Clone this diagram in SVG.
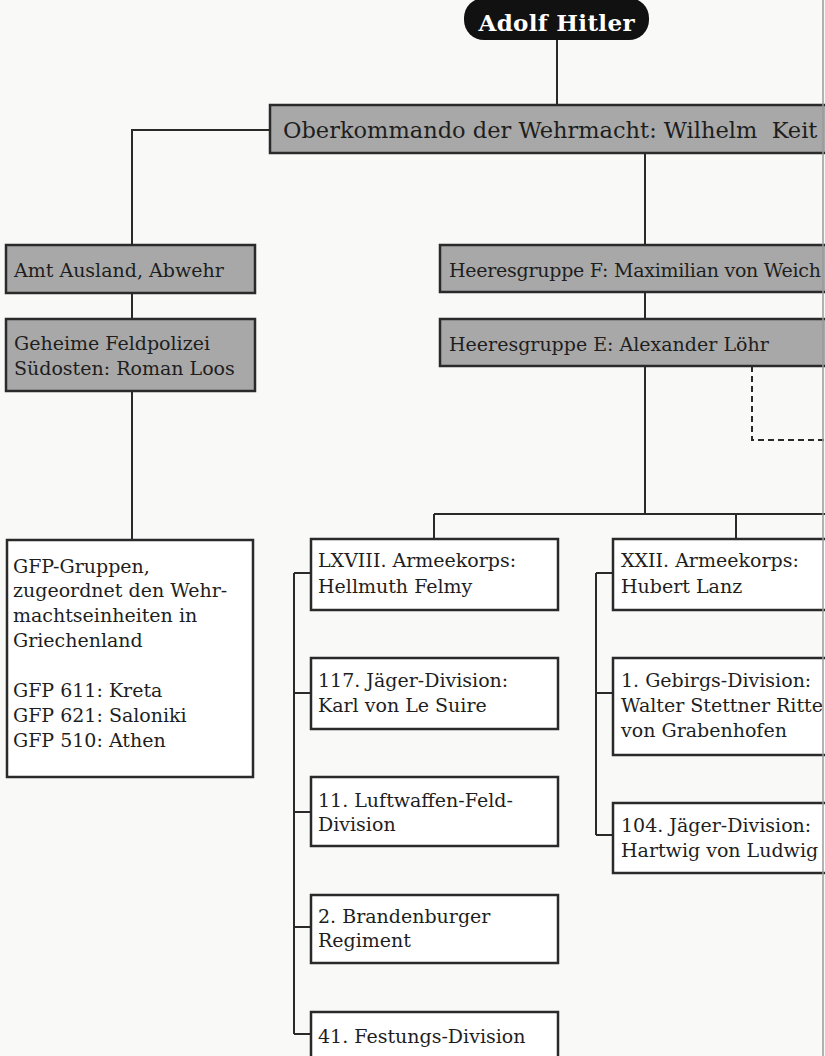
<svg xmlns="http://www.w3.org/2000/svg" width="825" height="1056" viewBox="0 0 825 1056">
<style>
.bg{fill:#f9f9f8}
.box{fill:#ffffff;stroke:#2a2a2a;stroke-width:2.5}
.gray{fill:#a8a8a8;stroke:#2a2a2a;stroke-width:2.5}
.t{font-family:"DejaVu Serif","Liberation Serif",serif;font-size:19px;fill:#1e1e1e}
.big{font-size:22.5px;white-space:pre}
.hit{font-family:"DejaVu Serif","Liberation Serif",serif;font-size:23px;font-weight:bold;fill:#ffffff}
.ln{stroke:#2a2a2a;stroke-width:2;fill:none}
.dash{stroke:#2a2a2a;stroke-width:2;fill:none;stroke-dasharray:6 4}
.edge{stroke:#9a9a9a;stroke-width:1.5}
</style>
<rect class="bg" x="0" y="0" width="825" height="1056"/>
<g id="connectors">
<path class="ln" d="M557 40V105"/>
<path class="ln" d="M270 130H132V245M132 293V319M132 391V540"/>
<path class="ln" d="M645 153V245M645 292V319M645 366V514M434 514H825M434 514V539M736 514V539"/>
<path class="dash" d="M752 366V440H825"/>
<path class="ln" d="M294 573V1034M294 573H311M294 693H311M294 812H311M294 927H311M294 1034H311"/>
<path class="ln" d="M596 573V835M596 573H613M596 693H613M596 835H613"/>
</g>
<g id="hitler">
<rect x="464" y="-2" width="185" height="42" rx="20" fill="#111"/>
<text class="hit" x="556.5" y="31" text-anchor="middle" textLength="156">Adolf Hitler</text>
</g>
<g id="okw">
<rect class="gray" x="270" y="105" width="570" height="48"/>
<text class="t big" x="283" y="138" xml:space="preserve">Oberkommando der Wehrmacht: Wilhelm  Keit</text>
</g>
<g id="amt-ausland">
<rect class="gray" x="6" y="245" width="249" height="48"/>
<text class="t" x="14" y="277">Amt Ausland, Abwehr</text>
</g>
<g id="gfp-suedosten">
<rect class="gray" x="6" y="319" width="249" height="72"/>
<text class="t" x="14" y="350">Geheime Feldpolizei</text>
<text class="t" x="14" y="375">Südosten: Roman Loos</text>
</g>
<g id="gfp-gruppen">
<rect class="box" x="7" y="540" width="246" height="237"/>
<text class="t" x="13" y="573">GFP-Gruppen,</text>
<text class="t" x="13" y="597">zugeordnet den Wehr-</text>
<text class="t" x="13" y="622">machtseinheiten in</text>
<text class="t" x="13" y="647">Griechenland</text>
<text class="t" x="13" y="697">GFP 611: Kreta</text>
<text class="t" x="13" y="722">GFP 621: Saloniki</text>
<text class="t" x="13" y="747">GFP 510: Athen</text>
</g>
<g id="hg-f">
<rect class="gray" x="440" y="245" width="400" height="47"/>
<text class="t" x="449" y="277" textLength="372">Heeresgruppe F: Maximilian von Weich</text>
</g>
<g id="hg-e">
<rect class="gray" x="440" y="319" width="400" height="47"/>
<text class="t" x="449" y="351">Heeresgruppe E: Alexander Löhr</text>
</g>
<g id="lxviii">
<rect class="box" x="311" y="539" width="247" height="71"/>
<text class="t" x="318" y="567">LXVIII. Armeekorps:</text>
<text class="t" x="318" y="593">Hellmuth Felmy</text>
</g>
<g id="xxii">
<rect class="box" x="613" y="539" width="230" height="71"/>
<text class="t" x="621" y="567">XXII. Armeekorps:</text>
<text class="t" x="621" y="593">Hubert Lanz</text>
</g>
<g id="div117">
<rect class="box" x="311" y="658" width="247" height="71"/>
<text class="t" x="318" y="687">117. Jäger-Division:</text>
<text class="t" x="318" y="712">Karl von Le Suire</text>
</g>
<g id="gebirgs1">
<rect class="box" x="613" y="658" width="230" height="97"/>
<text class="t" x="621" y="687">1. Gebirgs-Division:</text>
<text class="t" x="621" y="712">Walter Stettner Ritte</text>
<text class="t" x="621" y="737">von Grabenhofen</text>
</g>
<g id="luftwaffe11">
<rect class="box" x="311" y="777" width="247" height="69"/>
<text class="t" x="318" y="807">11. Luftwaffen-Feld-</text>
<text class="t" x="318" y="831">Division</text>
</g>
<g id="div104">
<rect class="box" x="613" y="803" width="230" height="70"/>
<text class="t" x="621" y="832">104. Jäger-Division:</text>
<text class="t" x="621" y="857">Hartwig von Ludwig</text>
</g>
<g id="brandenburger2">
<rect class="box" x="311" y="895" width="247" height="68"/>
<text class="t" x="318" y="923">2. Brandenburger</text>
<text class="t" x="318" y="947">Regiment</text>
</g>
<g id="festungs41">
<rect class="box" x="311" y="1012" width="247" height="60"/>
<text class="t" x="318" y="1043">41. Festungs-Division</text>
</g>
<line class="edge" x1="823" y1="0" x2="823" y2="1056"/>
</svg>
